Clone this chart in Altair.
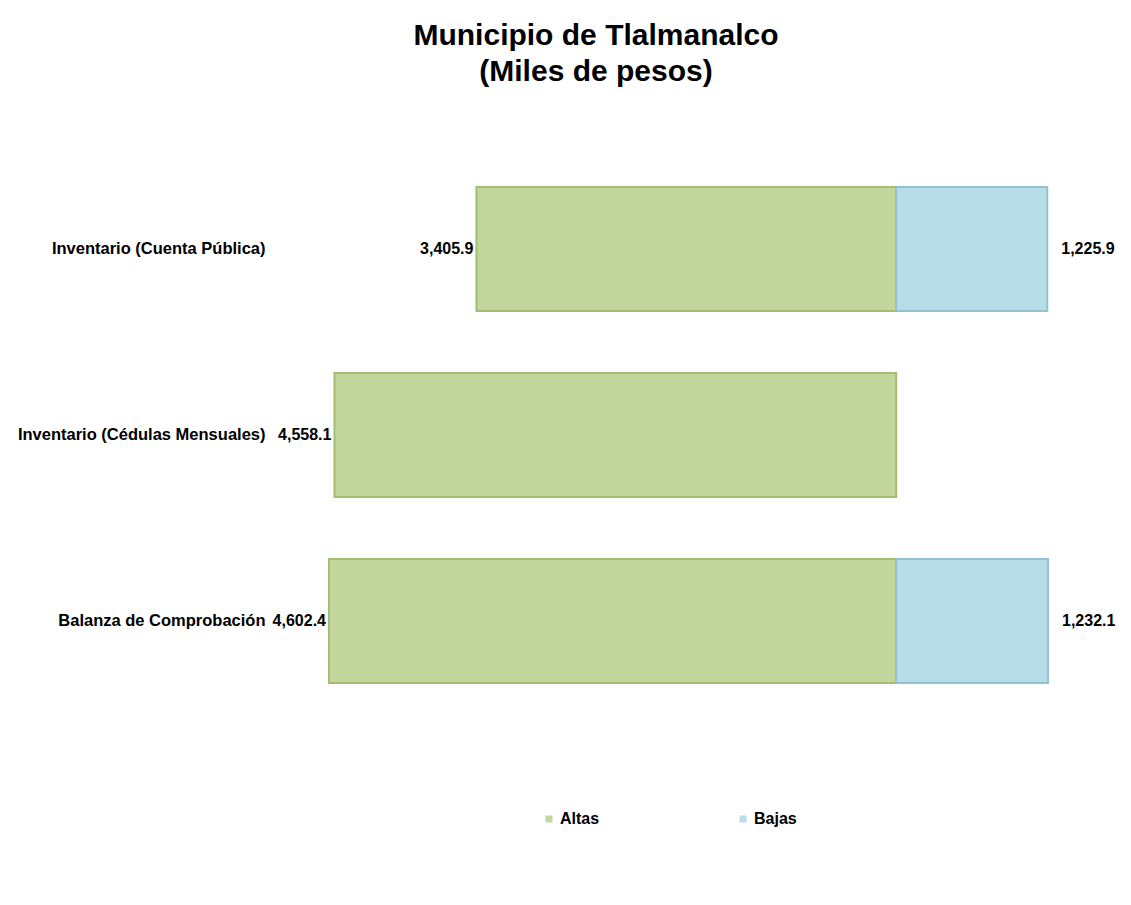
import altair as alt
import pandas as pd

categories = ["Inventario (Cuenta Pública)", "Inventario (Cédulas Mensuales)", "Balanza de Comprobación"]
altas = [3405.9, 4558.1, 4602.4]
bajas = [1225.9, None, 1232.1]
series = ["Altas", "Bajas"]
colors = ["#C3D69B", "#B7DDE8"]
strokes = ["#A3BD72", "#92C2D2"]

rows = []
for c, a, b in zip(categories, altas, bajas):
    rows.append({"cat": c, "serie": "Altas", "start": -a, "end": 0, "val": a,
                 "lab": f"{a:,.1f}"})
    if b is not None:
        rows.append({"cat": c, "serie": "Bajas", "start": 0, "end": b, "val": b,
                     "lab": f"{b:,.1f}"})
df = pd.DataFrame(rows)

FONT = "Liberation Sans"

xs = alt.X("start:Q", scale=alt.Scale(domain=[-5000, 1800], nice=False, zero=False), axis=None)
ys = alt.Y("cat:N", sort=categories,
           scale=alt.Scale(paddingInner=0.333, paddingOuter=0.1665),
           axis=alt.Axis(title=None, ticks=False, domain=False, labelFont=FONT,
                         labelFontSize=16.5, labelFontWeight="bold", labelColor="#000000",
                         labelPadding=15, labelLimit=400))

bars = alt.Chart(df).mark_bar(strokeWidth=2).encode(
    x=xs,
    x2="end:Q",
    y=ys,
    color=alt.Color("serie:N", scale=alt.Scale(domain=series, range=colors),
                    legend=alt.Legend(title=None, orient="none", direction="horizontal",
                                      legendX=261, legendY=655, symbolType="square",
                                      symbolSize=49, symbolStrokeWidth=0,
                                      labelFont=FONT, labelFontSize=16,
                                      labelFontWeight="bold", labelColor="#000000",
                                      labelOffset=3, columnPadding=135, padding=0)),
    stroke=alt.Stroke("serie:N", scale=alt.Scale(domain=series, range=strokes), legend=None),
)

lab_altas = alt.Chart(df).transform_filter(alt.datum.serie == "Altas").mark_text(
    align="right", baseline="middle", dx=-3, font=FONT, fontSize=16, fontWeight="bold",
    color="#000000").encode(x="start:Q", y=alt.Y("cat:N", sort=categories), text="lab:N")

lab_bajas = alt.Chart(df).transform_filter(alt.datum.serie == "Bajas").mark_text(
    align="left", baseline="middle", dx=14, font=FONT, fontSize=16, fontWeight="bold",
    color="#000000").encode(x="end:Q", y=alt.Y("cat:N", sort=categories), text="lab:N")

chart = alt.layer(bars, lab_altas, lab_bajas).properties(
    width=838, height=558,
    background="#ffffff",
    title=alt.TitleParams(["Municipio de Tlalmanalco", "(Miles de pesos)"],
                          font=FONT, fontSize=30, fontWeight="bold", color="#000000",
                          anchor="start", frame="group", align="center", dx=316,
                          offset=69, lineHeight=36),
    autosize=alt.AutoSizeParams(type="none"),
    padding={"left": 272, "top": 148, "right": 5, "bottom": 180},
).configure_view(strokeWidth=0, stroke="transparent")

chart.save("out.html", embed_options={"renderer": "svg", "actions": False})
